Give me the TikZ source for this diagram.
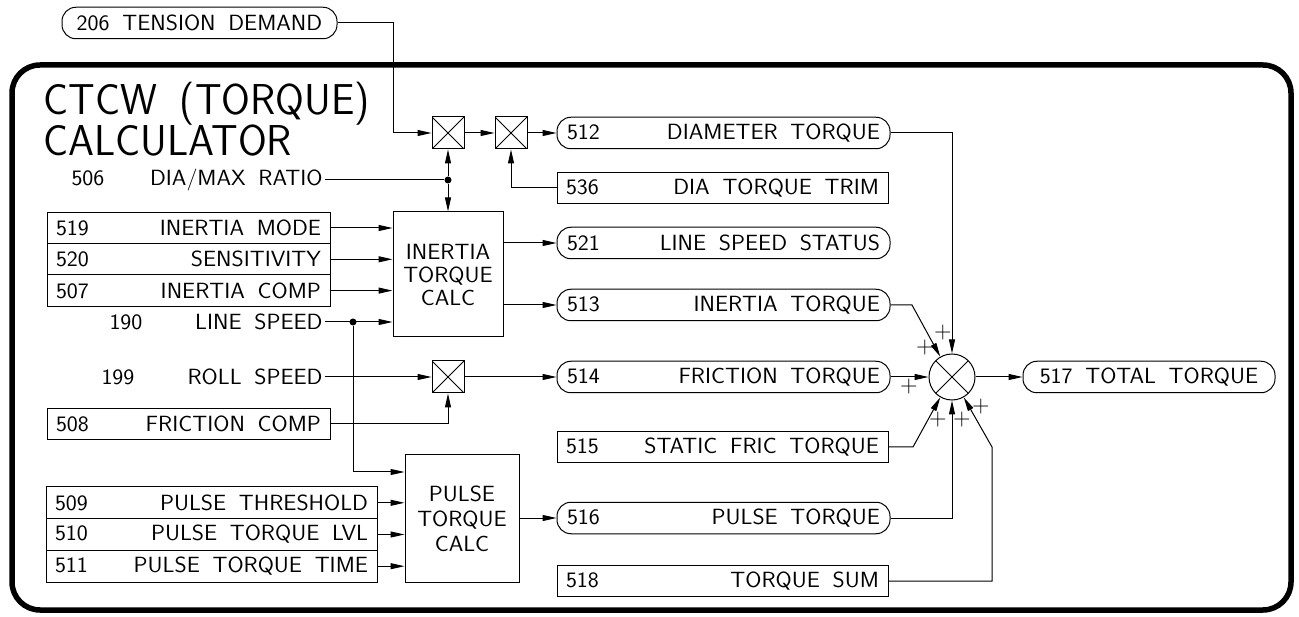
\documentclass[tikz,border=0pt]{standalone}
\usetikzlibrary{arrows.meta,calc}
\newcommand\lbf{\sffamily\fontsize{22}{23}\selectfont\spaceskip=12pt\relax}
\newcommand\ttlf{\sffamily\fontsize{40}{40}\selectfont\spaceskip=22pt\relax}
\newcommand\hsc[1]{\scalebox{1.06}[1]{#1}}
\newcommand\rowtxt[3]{\makebox[#1]{\hsc{#2}\hfill\hsc{#3}}}
\begin{document}
\begin{tikzpicture}[x=1pt,y=-1pt, line width=1pt,
  >={Triangle[length=14pt,width=6pt]},
  box/.style={draw, line width=1pt, minimum height=31.5pt, inner sep=0pt, font=\lbf},
  pill/.style={box, rounded corners=14pt},
  xpic/.style={path picture={\draw[line width=0.8pt] (path picture bounding box.south west) -- (path picture bounding box.north east) (path picture bounding box.north west) -- (path picture bounding box.south east);}},
  mult/.style={draw, minimum size=32pt, inner sep=0pt, xpic},
  calcbox/.style={draw, inner sep=0pt, font=\lbf, align=center},
  plain/.style={inner sep=0pt, font=\lbf},
  jdot/.style={circle, fill, inner sep=0pt, minimum size=7pt},
  pl/.style={inner sep=0pt, font=\sffamily\fontsize{24}{24}\selectfont}]
\useasboundingbox (0,0) rectangle (1299,617);

% frame
\draw[line width=5.5pt, rounded corners=28pt] (12,65) rectangle (1291,610);

% title
\node[inner sep=0pt, anchor=base west, font=\ttlf] (title1) at (43,115) {\scalebox{1.04}[1.08]{CTCW (TORQUE)}};
\node[inner sep=0pt, anchor=base west, font=\ttlf] (title2) at (43,156) {\scalebox{1.04}[1.08]{CALCULATOR}};

% top input
\node[pill, minimum width=275pt] (tens) at (199.5,23) {\hsc{206 TENSION DEMAND}};

% multipliers
\node[mult] (m1) at (448,133) {};
\node[mult] (m2) at (511,133) {};
\node[mult] (m3) at (448,377) {};

% output / parameter boxes
\node[pill, minimum width=333pt] (dt) at (723.5,133) {\rowtxt{313pt}{512}{DIAMETER TORQUE}};
\node[box, minimum width=331pt] (trim) at (722.5,188) {\rowtxt{313pt}{536}{DIA TORQUE TRIM}};
\node[pill, minimum width=333pt] (lss) at (723.5,243) {\rowtxt{313pt}{521}{LINE SPEED STATUS}};
\node[pill, minimum width=333pt] (it) at (723.5,305) {\rowtxt{313pt}{513}{INERTIA TORQUE}};
\node[pill, minimum width=333pt] (ft) at (723.5,377) {\rowtxt{313pt}{514}{FRICTION TORQUE}};
\node[box, minimum width=331pt] (sft) at (722.5,447) {\rowtxt{313pt}{515}{STATIC FRIC TORQUE}};
\node[pill, minimum width=333pt] (pt) at (723.5,518) {\rowtxt{313pt}{516}{PULSE TORQUE}};
\node[box, minimum width=331pt] (tsum) at (722.5,581) {\rowtxt{313pt}{518}{TORQUE SUM}};
\node[pill, minimum width=252pt] (tt) at (1149,377) {\hsc{517 TOTAL TORQUE}};

% summing junction
\node[draw, circle, minimum size=46pt, inner sep=0pt, xpic] (sum) at (952,377) {};

% calc blocks
\node[calcbox, minimum width=110pt, minimum height=125pt] (itc) at (448,274.5) {\hsc{INERTIA}\\\hsc{TORQUE}\\\hsc{CALC}};
\node[calcbox, minimum width=114pt, minimum height=127pt, font=\sffamily\fontsize{22}{25}\selectfont] (ptc) at (462,518.5) {\hsc{PULSE}\\\hsc{TORQUE}\\\hsc{CALC}};

% left inputs
\node[plain, anchor=east] (t506) at (323,180) {\rowtxt{251pt}{506}{DIA/MAX RATIO}};
\node[box, minimum width=283pt, minimum height=31.3pt] (r519) at (188.5,228) {\rowtxt{265pt}{519}{INERTIA MODE}};
\node[box, minimum width=283pt, minimum height=31.3pt] (r520) at (188.5,259.3) {\rowtxt{265pt}{520}{SENSITIVITY}};
\node[box, minimum width=283pt, minimum height=31.3pt] (r507) at (188.5,290.6) {\rowtxt{265pt}{507}{INERTIA COMP}};
\node[plain, anchor=east] (t190) at (323,322) {\rowtxt{213pt}{190}{LINE SPEED}};
\node[plain, anchor=east] (t199) at (323,377) {\rowtxt{221pt}{199}{ROLL SPEED}};
\node[box, minimum width=283pt] (r508) at (188.5,424) {\rowtxt{265pt}{508}{FRICTION COMP}};
\node[box, minimum width=331pt, minimum height=31.7pt] (r509) at (211.5,502.8) {\rowtxt{313pt}{509}{PULSE THRESHOLD}};
\node[box, minimum width=331pt, minimum height=31.7pt] (r510) at (211.5,534.5) {\rowtxt{313pt}{510}{PULSE TORQUE LVL}};
\node[box, minimum width=331pt, minimum height=31.7pt] (r511) at (211.5,566.2) {\rowtxt{313pt}{511}{PULSE TORQUE TIME}};

% junction dots
\node[jdot] (d1) at (448,180) {};
\node[jdot] (d2) at (353,322) {};

% connectors: diameter path
\draw[->] (tens.east) -| (393,133) -- (m1.west);
\draw[->] (m1.east) -- (m2.west);
\draw[->] (m2.east) -- (dt.west);
\draw[->] (trim.west) -| (m2.south);
\draw ([xshift=2pt]t506.east) -- (d1);
\draw[->] (d1) -- (m1.south);
\draw[->] (d1) -- (itc.north);

% inertia inputs
\draw[->] (r519.east) -- (r519.east -| itc.west);
\draw[->] (r520.east) -- (r520.east -| itc.west);
\draw[->] (r507.east) -- (r507.east -| itc.west);
\draw[->] ([xshift=2pt]t190.east) -- (t190.east -| itc.west);
\draw[->] (d2) |- (ptc.west |- 0,472);

% inertia outputs
\draw[->] (itc.east |- lss.west) -- (lss.west);
\draw[->] (itc.east |- it.west) -- (it.west);

% friction path
\draw[->] ([xshift=2pt]t199.east) -- (m3.west);
\draw[->] (r508.east) -| (m3.south);
\draw[->] (m3.east) -- (ft.west);

% pulse inputs / output
\draw[->] (r509.east) -- (r509.east -| ptc.west);
\draw[->] (r510.east) -- (r510.east -| ptc.west);
\draw[->] (r511.east) -- (r511.east -| ptc.west);
\draw[->] (ptc.east |- pt.west) -- (pt.west);

% sum inputs
\draw[->] (dt.east) -| (sum.north);
\draw[->] (it.east) -- (912,305) -- (sum.120);
\draw[->] (ft.east) -- (sum.west);
\draw[->] (sft.east) -- (913,447) -- (sum.240);
\draw[->] (pt.east) -| (sum.south);
\draw[->] (tsum.east) -| (992,447) -- (sum.300);
\draw[->] (sum.east) -- (tt.west);

% plus signs
\node[pl] (pa) at (943,333) {+};
\node[pl] (pb) at (925,348) {+};
\node[pl] (pc) at (909,387) {+};
\node[pl] (pd) at (938,420) {+};
\node[pl] (pe) at (962,420) {+};
\node[pl] (pf) at (981,407) {+};
\end{tikzpicture}
\end{document}
